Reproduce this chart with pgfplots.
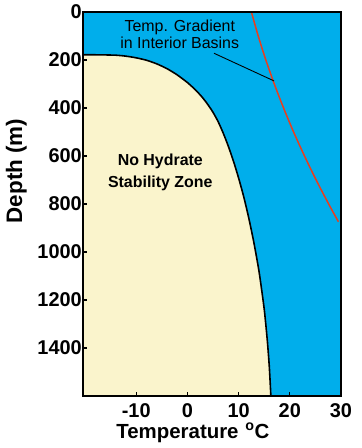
\documentclass[border=0pt]{standalone}
\usepackage{fontspec}
\setmainfont{Liberation Sans}
\usepackage{pgfplots}
\pgfplotsset{compat=1.18}
\definecolor{seablue}{RGB}{0,174,235}
\definecolor{cream}{RGB}{250,244,204}
\definecolor{gradred}{RGB}{232,62,30}
\pgfplotstableread{
T D
-20.4 178
-17 178.5
-14 180
-12 184
-10 191
-8 201
-6 216
-4 236
-2 262
0 294
1 313
2 334
3 358
4 386
5 418
6 457
7 505
8 560
9 622
10 692
11 770
12 860
13 963
14 1083
15 1238
15.6 1368
16 1480
16.3 1600
}\boundary
\pgfplotstableread{
T D
12.5 0
13.83 100
15.32 200
16.97 300
18.78 400
20.74 500
22.87 600
25.15 700
27.59 800
29.5 874
}\gradient
\begin{document}
\begin{tikzpicture}
\begin{axis}[
  at={(0,0)}, anchor=south west,
  scale only axis, width=258bp, height=384bp,
  xmin=-20.4, xmax=30, ymin=0, ymax=1600,
  y dir=reverse,
  axis on top=true,
  axis background/.style={fill=seablue},
  axis line style={line width=1.6pt},
  tick style={line width=1.2pt, black},
  major tick length=4bp,
  tick align=inside,
  tick pos=left,
  xtick={-10,0,10,20,30},
  ytick={0,200,400,600,800,1000,1200,1400},
  /pgf/number format/assume math mode=true,
  /pgf/number format/1000 sep={},
  ticklabel style={font=\fontsize{20}{24}\selectfont\bfseries},
  yticklabel style={inner sep=1pt},
  xticklabel style={inner sep=2pt, yshift=-5bp},
  xlabel={Temperature\,\,\textsuperscript{o}C},
  xlabel style={font=\fontsize{20.5}{24}\selectfont\bfseries, at={(rel axis cs:0.426,0)}, anchor=center, yshift=-37bp},
  ylabel={Depth (m)},
  ylabel style={font=\fontsize{22.5}{24}\selectfont\bfseries, at={(rel axis cs:-0.258,0.586)}, anchor=center},
  clip=true,
]
\addplot[fill=cream, draw=none] table[x=T, y=D] {\boundary} -- (axis cs:-20.4,1600) -- cycle;
\addplot[black, line width=1.6pt, smooth, tension=0.4] table[x=T, y=D] {\boundary};
\addplot[gradred, line width=1.5pt, smooth, tension=0.5] table[x=T, y=D] {\gradient};
\addplot[black, line width=0.9pt] coordinates {(5.2,172) (16.9,287)};
\node[font=\fontsize{16}{17}\selectfont, align=center, anchor=center] at (axis cs:-1.5,94) {Temp. Gradient\\in Interior Basins};
\node[font=\fontsize{16}{21.5}\selectfont\bfseries, align=center, anchor=center] at (axis cs:-5.3,668) {No Hydrate\\Stability Zone};
\end{axis}
\pgfresetboundingbox
\path[use as bounding box] (-83bp,-52bp) rectangle (279bp,396bp);
\end{tikzpicture}
\end{document}
